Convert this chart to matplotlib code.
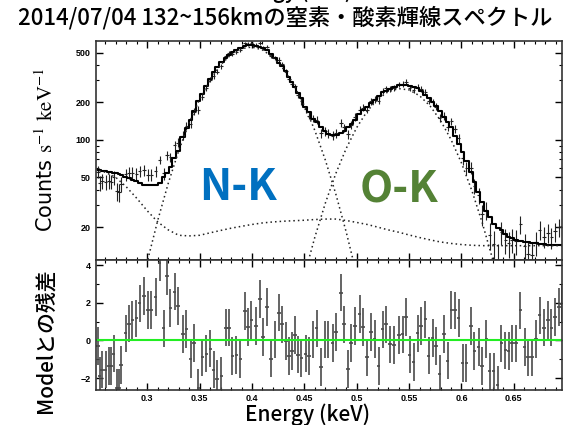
import numpy as np
import matplotlib
matplotlib.use('Agg')
import matplotlib.pyplot as plt
from matplotlib.ticker import FixedLocator, FixedFormatter, MultipleLocator, NullFormatter

plt.rcParams['font.family'] = ['Noto Sans CJK JP', 'DejaVu Sans']
plt.rcParams['mathtext.fontset'] = 'stix'

# spectrum channels (keV)
energy = [
    0.2528, 0.2544, 0.2570, 0.2602, 0.2634, 0.2656, 0.2678, 0.2710, 0.2729, 0.2751,
    0.2793, 0.2825, 0.2857, 0.2895, 0.2927, 0.2968, 0.3006, 0.3038, 0.3080, 0.3118,
    0.3156, 0.3188, 0.3220, 0.3261, 0.3293, 0.3341, 0.3373, 0.3414, 0.3446, 0.3488,
    0.3526, 0.3564, 0.3602, 0.3634, 0.3666, 0.3707, 0.3749, 0.3781, 0.3813, 0.3851,
    0.3889, 0.3931, 0.3962, 0.3994, 0.4036, 0.4074, 0.4106, 0.4144, 0.4182, 0.4217,
    0.4259, 0.4284, 0.4322, 0.4354, 0.4381, 0.4409, 0.4440, 0.4472, 0.4511, 0.4542, 0.4584,
    0.4616, 0.4657, 0.4695, 0.4727,
    0.4769, 0.4800, 0.4852, 0.4880, 0.4915, 0.4947, 0.4985, 0.5027, 0.5062, 0.5100,
    0.5135, 0.5170, 0.5208, 0.5247, 0.5279, 0.5320, 0.5358, 0.5406, 0.5438, 0.5470,
    0.5505, 0.5543, 0.5581, 0.5616, 0.5655, 0.5686, 0.5725, 0.5757, 0.5792, 0.5833,
    0.5868, 0.5903, 0.5941, 0.5973, 0.6011, 0.6047, 0.6091, 0.6123, 0.6164, 0.6196,
    0.6238, 0.6270, 0.6308, 0.6346, 0.6381, 0.6419, 0.6451, 0.6482, 0.6521, 0.6563,
    0.6604, 0.6636, 0.6674, 0.6712, 0.6747, 0.6786, 0.6824, 0.6859, 0.6891, 0.6929,
    0.6960]

counts = [
    55.6, 45.0, 46.7, 46.1, 46.8, 46.4, 50.2, 38.6, 38.0, 44.6,
    52.8, 54.7, 54.4, 53.3, 56.2, 57.0, 52.6, 52.5, 56.4, 69.2,
    53.8, 75.2, 72.6, 90.7, 95.0, 108.1, 129.9, 134.8, 168.7, 174.6,
    220.3, 260.2, 303.6, 325.4, 351.9, 387.4, 467.3, 494.7, 489.0, 509.8,
    525.2, 593.4, 586.8, 597.0, 580.4, 595.7, 544.0, 559.7, 471.9, 455.9,
    440.6, 406.3, 354.4, 305.3, 281.7, 268.9, 228.2, 203.5, 176.9, 156.8, 148.5,
    144.4, 112.6, 117.5, 112.5,
    107.9, 113.1, 137.1, 125.8, 111.6, 131.8, 152.8, 174.9, 181.2, 174.6,
    203.3, 211.1, 206.6, 247.8, 259.4, 255.1, 262.5, 277.9, 280.5, 291.7,
    259.5, 250.2, 265.1, 255.1, 242.4, 205.0, 201.7, 184.5, 150.5, 155.8,
    127.3, 141.5, 122.1, 102.9, 71.0, 59.7, 59.8, 42.7, 36.1, 25.4,
    27.4, 17.2, 14.6, 10.8, 18.2, 15.7, 14.8, 15.8, 15.4, 21.0,
    14.2, 12.1, 11.9, 15.1, 19.0, 16.8, 18.0, 16.6, 18.5, 20.0,
    20.5]

counts_err = [
    6.4, 6.4, 6.4, 6.4, 6.3, 6.3, 6.3, 6.3, 6.2, 6.2,
    6.0, 6.0, 5.9, 5.8, 5.7, 5.6, 5.6, 5.6, 5.6, 5.7,
    6.0, 6.2, 6.6, 7.2, 7.7, 8.7, 9.5, 10.2, 11.1, 12.2,
    13.0, 14.0, 15.0, 15.9, 16.7, 17.4, 18.1, 18.7, 19.1, 19.5,
    19.8, 20.2, 20.3, 20.4, 20.2, 20.0, 19.8, 19.5, 18.8, 18.1,
    17.3, 16.8, 16.0, 15.2, 14.5, 13.8, 13.1, 12.5, 11.6, 11.0, 10.3,
    10.0, 9.5, 9.2, 9.0,
    8.9, 8.9, 9.1, 9.2, 9.5, 9.8, 10.2, 10.8, 11.2, 11.6,
    12.0, 12.3, 12.7, 13.2, 13.4, 13.7, 13.9, 14.1, 14.1, 14.1,
    14.0, 13.9, 13.7, 13.3, 12.8, 12.5, 12.0, 11.7, 11.1, 10.5,
    10.0, 9.5, 8.8, 8.2, 7.6, 7.0, 6.3, 5.8, 5.2, 4.8,
    4.4, 4.2, 3.9, 3.8, 3.7, 3.6, 3.5, 3.4, 3.4, 3.4,
    3.3, 3.3, 3.3, 3.3, 3.3, 3.3, 3.2, 3.2, 3.2, 3.2,
    3.2]

model = [
    57.5, 57.2, 56.6, 56.0, 55.5, 55.0, 54.6, 54.2, 53.6, 52.6,
    50.6, 49.3, 48.0, 46.5, 45.0, 43.7, 43.5, 43.4, 43.5, 45.5,
    50.0, 54.0, 61.0, 72.0, 81.0, 105, 124, 145, 170, 205,
    232, 270, 310, 350, 386, 420, 455, 482, 505, 525,
    545, 562, 572, 575, 565, 552, 540, 525, 490, 455,
    415, 392, 355, 318, 290, 265, 238, 215, 185, 166, 148,
    138, 126, 117, 112,
    109, 109, 114, 118, 126, 133, 145, 160, 173, 185,
    198, 210, 224, 240, 248, 258, 266, 274, 276, 274,
    270, 266, 260, 245, 228, 215, 200, 188, 170, 152,
    138, 126, 108, 93, 80, 68, 55, 46, 38, 32,
    27, 24, 21, 19.7, 18.8, 17.6, 16.8, 16.3, 15.9, 15.6,
    15.3, 15.1, 14.9, 14.8, 14.7, 14.6, 14.5, 14.4, 14.4, 14.3,
    14.3]

resid = [
    -0.3, -1.9, -1.55, -1.55, -1.37, -1.37, -0.7, -2.5, -2.5, -1.3,
    0.37, 0.9, 1.08, 1.17, 1.97, 2.36, 1.62, 1.62, 2.3, 4.14,
    0.64, 3.4, 1.74, 2.6, 1.83, 0.36, 0.62, -1.0, -0.12, -2.5,
    -0.9, -0.7, -0.43, -1.55, -2.04, -1.87, 0.68, 0.68, -0.84, -0.78,
    -1.0, 1.56, 0.73, 1.08, 0.76, 2.19, 0.2, 1.78, -0.96, 0.05,
    1.48, 0.85, -0.04, -0.84, -0.57, 0.28, -0.75, -0.92, -0.7, -0.84, 0.05,
    0.64, -1.4, 0.05, 0.05,
    -0.12, 0.46, 2.54, 0.85, -1.51, -0.12, 0.76, 1.39, 0.73, -0.9,
    0.44, 0.09, -1.37, 0.59, 0.85, -0.21, -0.25, 0.28, 0.32, 1.26,
    -0.75, -1.14, 0.37, 0.76, 1.12, -0.8, 0.14, -0.3, -1.76, 0.36,
    -1.07, 1.62, 1.6, 1.21, -1.19, -1.19, 0.76, -0.57, -0.36, -1.37,
    0.09, -1.64, -1.64, -2.35, -0.16, -0.53, -0.57, -0.16, -0.16, 1.6,
    -0.34, -0.9, -0.9, 0.09, 1.33, 0.68, 1.08, 0.68, 1.26, 1.78,
    1.92]

# model components (dotted)
cont_e = [0.25, 0.26, 0.27, 0.28, 0.29, 0.30, 0.31, 0.32, 0.33, 0.34, 0.35, 0.36,
          0.37, 0.38, 0.39, 0.40, 0.41, 0.42, 0.43, 0.44, 0.45, 0.46, 0.47, 0.48,
          0.49, 0.50, 0.51, 0.52, 0.53, 0.54, 0.55, 0.56, 0.57, 0.58, 0.59, 0.60,
          0.61, 0.62, 0.63, 0.64, 0.65, 0.66, 0.67, 0.68, 0.69, 0.70]
cont = [58, 55, 50, 42, 34, 27, 22, 19, 17.2, 17, 17.2, 18,
        18.8, 19.6, 20.3, 21, 21.6, 22, 22.3, 22.5, 22.7, 23, 23.2, 23.2,
        22.6, 21.8, 21, 20, 19, 18.2, 17.3, 16.5, 15.8, 15.2, 14.8, 14.5,
        14.3, 14.2, 14.2, 14.2, 14.2, 14.2, 14.2, 14.2, 14.2, 14.2]

nk_e = [0.27, 0.28, 0.29, 0.30, 0.31, 0.32, 0.33, 0.34, 0.35, 0.36, 0.37, 0.38,
        0.39, 0.40, 0.41, 0.42, 0.43, 0.44, 0.45, 0.46, 0.47, 0.48, 0.49, 0.50,
        0.51, 0.52]
nk = [0.66, 1.8, 4.6, 10.6, 22.7, 44.9, 81.8, 137, 212, 303, 399, 483,
      539, 555, 526, 460, 370, 275, 188, 119, 69, 36.9, 18.2, 8.3,
      3.5, 1.3]

ok_e = [0.42, 0.43, 0.44, 0.45, 0.46, 0.47, 0.48, 0.49, 0.50, 0.51, 0.52, 0.53,
        0.54, 0.55, 0.56, 0.57, 0.58, 0.59, 0.60, 0.61, 0.62, 0.63, 0.64, 0.65,
        0.66]
ok = [0.6, 1.55, 3.7, 8.2, 16.6, 31.1, 53.7, 85.6, 125.6, 169.9, 211.7, 243.3,
      257.6, 251.4, 226, 187.3, 143.1, 100.8, 65.4, 39.1, 21.5, 10.9, 5.1, 2.2,
      0.88]

half_bin = 0.0017
xticks = [0.3, 0.35, 0.4, 0.45, 0.5, 0.55, 0.6, 0.65]
xticklabels = ['0.3', '0.35', '0.4', '0.45', '0.5', '0.55', '0.6', '0.65']

fig = plt.figure(figsize=(5.64, 4.25), dpi=100)
ax1 = fig.add_axes([0.1702, 0.3894, 0.8262, 0.5141])
ax2 = fig.add_axes([0.1702, 0.0824, 0.8262, 0.3070], sharex=ax1)

# top panel: spectrum
ax1.errorbar(energy, counts, xerr=half_bin, yerr=counts_err, fmt='none',
             ecolor='#222222', elinewidth=0.8)
ax1.plot(energy, model, drawstyle='steps-mid', color='black', lw=1.5)
for ce, cv in [(cont_e, cont), (nk_e, nk), (ok_e, ok)]:
    ax1.plot(ce, cv, color='#222222', lw=1.1, linestyle=(0, (1, 2)))
ax1.set_yscale('log')
ax1.set_xlim(0.251, 0.696)
ax1.set_ylim(11, 620)
ax1.yaxis.set_major_locator(FixedLocator([20, 50, 100, 200, 500]))
ax1.yaxis.set_minor_locator(FixedLocator([30, 40, 60, 70, 80, 90, 300, 400]))
ax1.yaxis.set_major_formatter(FixedFormatter(['20', '50', '100', '200', '500']))
ax1.yaxis.set_minor_formatter(NullFormatter())
ax1.tick_params(axis='x', labelbottom=False)

ax1.text(0.387, 42, 'N-K', color='#0070C0', fontsize=31, fontweight='bold',
         ha='center', va='center')
ax1.text(0.540, 40, 'O-K', color='#548235', fontsize=31, fontweight='bold',
         ha='center', va='center')

# bottom panel: residuals
ax2.errorbar(energy, resid, xerr=half_bin, yerr=1.0, fmt='none',
             ecolor='#4a4a4a', elinewidth=1.2)
ax2.axhline(0, color='#22ee22', lw=1.5)
ax2.set_ylim(-2.63, 4.3)
ax2.yaxis.set_major_locator(FixedLocator([-2, 0, 2, 4]))
ax2.yaxis.set_minor_locator(MultipleLocator(1))
ax2.set_xticks(xticks)
ax2.set_xticklabels(xticklabels)
ax2.xaxis.set_minor_locator(MultipleLocator(0.01))

for ax in (ax1, ax2):
    ax.tick_params(which='both', direction='in', top=True, right=True,
                   labelsize=6.5, pad=4)
    ax.tick_params(which='major', length=5, width=1)
    ax.tick_params(which='minor', length=2.5, width=0.8)
    for lab in ax.get_xticklabels() + ax.get_yticklabels():
        lab.set_fontfamily('Liberation Sans')
        lab.set_fontweight('bold')
    for sp in ax.spines.values():
        sp.set_linewidth(1.2)
        sp.set_color('#333333')
ax2.tick_params(axis='x', which='both', pad=3)

ax1.set_ylabel(r'Counts $\mathrm{s^{-1}\ keV^{-1}}$', fontsize=15,
               family=['DejaVu Sans'], fontweight='medium')
ax1.yaxis.set_label_coords(-0.084, 0.5)
ax2.set_ylabel('Modelとの残差', fontsize=15, fontweight='medium')
ax2.yaxis.set_label_coords(-0.084, 0.38)
ax2.set_xlabel('Energy (keV)', fontsize=15, fontweight='medium')
ax2.xaxis.set_label_coords(0.453, -0.238)
ax2.xaxis.label.set_va('baseline')

fig.text(0.505, 0.958, '2014/07/04 132~156kmの窒素・酸素輝線スペクトル',
         fontsize=16, fontweight='medium', ha='center', va='center')
# title of the plot above, cut off by the top edge
fig.text(0.514, 1.004, 'Energy (keV)', fontsize=15, fontweight='medium',
         ha='center', va='baseline')

fig.savefig('out.png', dpi=100)
